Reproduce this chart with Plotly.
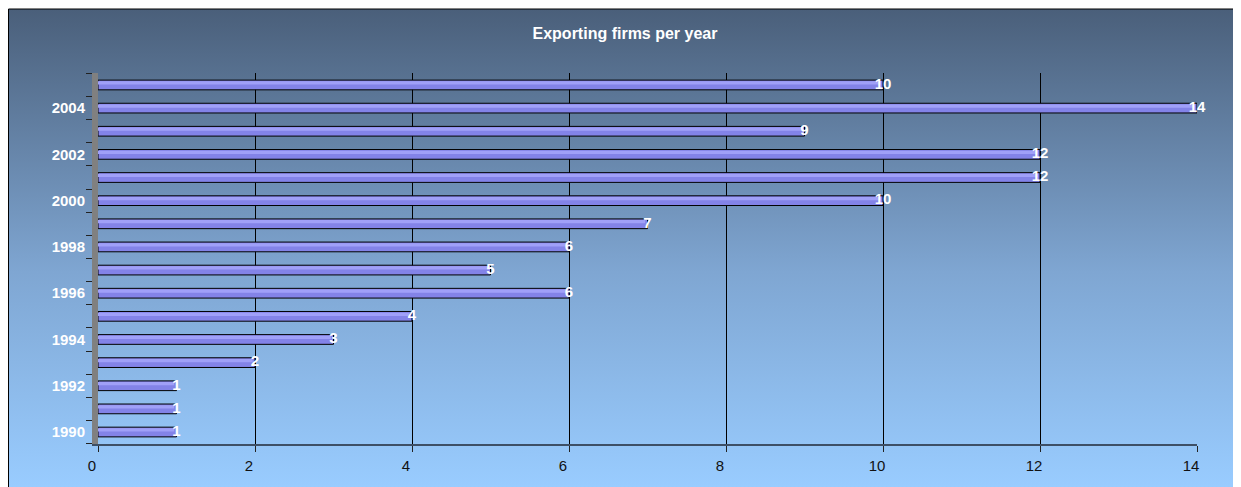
import plotly.graph_objects as go

years = list(range(1990, 2006))
firms = [1, 1, 1, 2, 3, 4, 6, 5, 6, 7, 10, 12, 12, 9, 14, 10]
x_ticks = [0, 2, 4, 6, 8, 10, 12, 14]
y_ticks = [1990, 1992, 1994, 1996, 1998, 2000, 2002, 2004]

W, H = 1241, 487
font = "Liberation Sans, Arial, sans-serif"

fig = go.Figure()

# gradient chart-area background on its own full-size subplot
fig.add_trace(go.Scatter(
    x=[0, 1, 1, 0, 0], y=[0, 0, 1, 1, 0], mode="lines", fill="toself",
    line=dict(width=0), hoverinfo="skip", showlegend=False,
    fillgradient=dict(type="vertical", start=0, stop=1,
                      colorscale=[[0, "#99ccff"], [0.45, "#7fa6d2"], [1, "#4a5f7a"]]),
    xaxis="x", yaxis="y",
))

# bars: base + lighter top highlight for the tube look
fig.add_trace(go.Bar(
    x=firms, y=years, orientation="h", width=0.42, offset=-0.21,
    marker=dict(color="#8383e8", line=dict(color="#000000", width=1)),
    xaxis="x2", yaxis="y2", showlegend=False,
))
fig.add_trace(go.Bar(
    x=[v - 0.03 for v in firms], y=years, orientation="h", width=0.14, offset=0.02,
    marker=dict(color="#a0a0f8", line=dict(width=0)),
    xaxis="x2", yaxis="y2", showlegend=False, hoverinfo="skip",
))
fig.add_trace(go.Scatter(
    x=firms, y=years, mode="text", text=[str(v) for v in firms],
    textposition="middle center", cliponaxis=False,
    textfont=dict(family=font, size=15, color="white", weight="bold"),
    xaxis="x2", yaxis="y2", showlegend=False,
))

fig.update_layout(
    width=W, height=H,
    margin=dict(l=0, r=0, t=0, b=0, autoexpand=False),
    paper_bgcolor="white", plot_bgcolor="rgba(0,0,0,0)",
    barmode="overlay",
    title=dict(text="<b>Exporting firms per year</b>", x=617 / W, xanchor="center",
               y=1 - 25 / H, yanchor="middle",
               font=dict(family=font, size=16, color="white")),
    xaxis=dict(domain=[0, 1], range=[0, 1], visible=False, fixedrange=True, automargin=False),
    yaxis=dict(domain=[8 / H, 1 - 1 / H], range=[0, 1], visible=False, fixedrange=True,
               automargin=False),
    xaxis2=dict(
        domain=[90 / W, 1189 / W], anchor="y2", range=[0, 14], automargin=False,
        tickvals=x_ticks, showgrid=True, gridcolor="#000000", gridwidth=1,
        zeroline=False, showline=True, linecolor="#3d4f66", linewidth=2,
        ticks="outside", ticklen=6, tickcolor="#222222", ticklabelshift=-6,
        ticklabelstandoff=1,
        tickfont=dict(family=font, size=15, color="#111111"),
    ),
    yaxis2=dict(
        domain=[1 - 435.6 / H, 1 - 65.4 / H], anchor="x2", range=[1989.5, 2005.5],
        automargin=False,
        tickvals=y_ticks, ticks="", showgrid=False, zeroline=False,
        showline=True, linecolor="#808080", linewidth=6,
        minor=dict(tickvals=[y + 0.5 for y in range(1989, 2006)], ticks="outside",
                   ticklen=6, tickcolor="#222222", showgrid=False),
        ticklabelstandoff=4,
        tickfont=dict(family=font, size=15, color="white", weight="bold"),
    ),
    shapes=[dict(type="rect", xref="paper", yref="paper",
                 x0=0.5 / W, x1=1.05, y0=-0.05, y1=1 - 1 / H,
                 line=dict(color="#000000", width=1), fillcolor="rgba(0,0,0,0)")],
)

fig.write_html("out.html")
